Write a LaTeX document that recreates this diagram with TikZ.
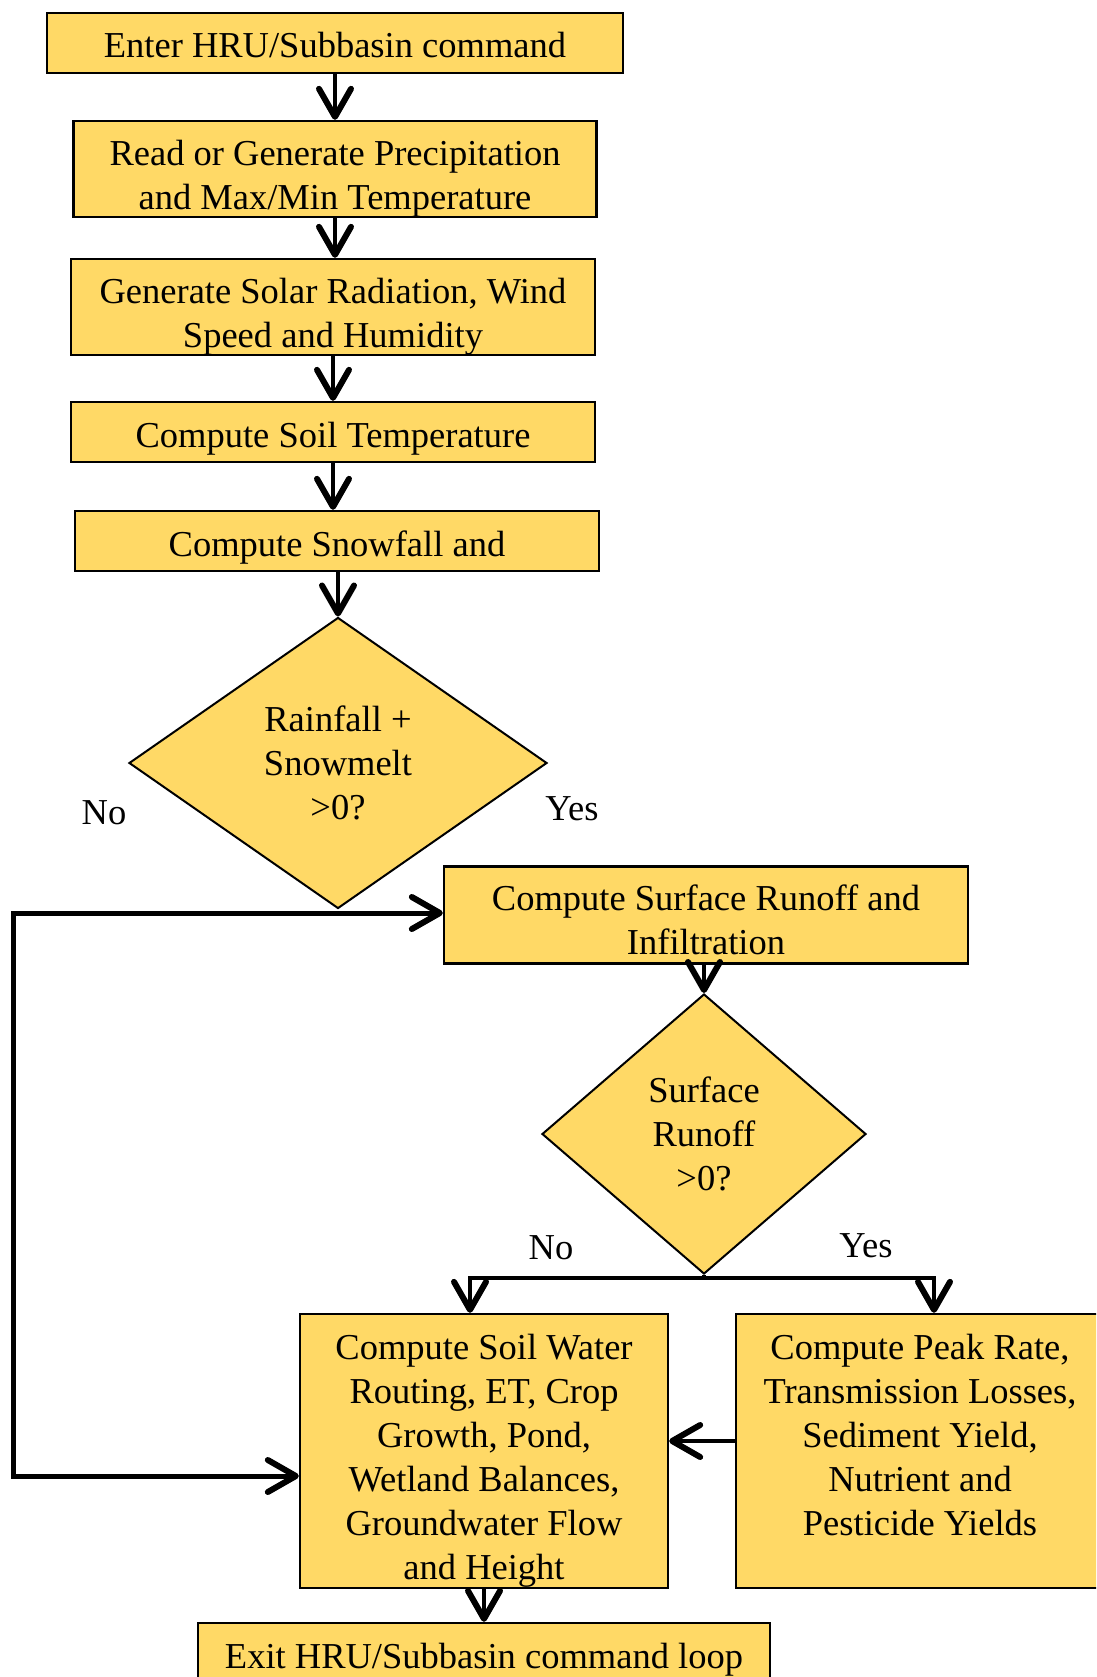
\documentclass[tikz,border=0pt]{standalone}
\usepackage{fontspec}
\setmainfont{Liberation Serif}
\usetikzlibrary{arrows.meta,shapes.geometric}
\definecolor{boxyellow}{HTML}{FFD966}
% lower the printed text by #1 without changing the box size used for centring
\newcommand{\lowtext}[2]{\raisebox{-#1}[\height][\depth]{\begin{tabular}{@{}c@{}}#2\end{tabular}}}
\begin{document}
\begin{tikzpicture}[x=1pt,y=-1pt,
  every node/.style={font=\fontsize{36.5}{44}\selectfont},
  procbox/.style={draw=black,line width=2.3pt,fill=boxyellow,inner sep=0pt,align=center},
  decbox/.style={diamond,draw=black,line width=2pt,fill=boxyellow,inner sep=0pt,align=center},
  barb/.tip={Straight Barb[length=28pt,width=32pt,line width=6pt,round]},
  flow/.style={line width=4.5pt,-barb},
  flowboth/.style={line width=5pt,barb-barb},
  plain/.style={line width=4.5pt},
  lbl/.style={inner sep=0pt}]
\useasboundingbox (0,0) rectangle (1096,1677);
\clip (0,0) rectangle (1096,1677);
\fill[white] (0,0) rectangle (1096,1677);

% process boxes
\node[procbox,minimum width=576pt,minimum height=60pt] (b1) at (335,43) {\lowtext{6pt}{Enter HRU/Subbasin command}};
\node[procbox,minimum width=523pt,minimum height=96pt] (b2) at (335,169) {\lowtext{10pt}{Read or Generate Precipitation\\and Max/Min Temperature}};
\node[procbox,minimum width=524pt,minimum height=96pt] (b3) at (333,307) {\lowtext{10pt}{Generate Solar Radiation, Wind\\Speed and Humidity}};
\node[procbox,minimum width=524pt,minimum height=60pt] (b4) at (333,432) {\lowtext{7pt}{Compute Soil Temperature}};
\node[procbox,minimum width=524pt,minimum height=60pt] (b5) at (337,541) {\lowtext{7pt}{Compute Snowfall and}};
\node[decbox,minimum width=418pt,minimum height=291pt] (d1) at (338,763) {Rainfall +\\Snowmelt\\>0?};
\node[procbox,minimum width=524pt,minimum height=97pt] (b6) at (706,915) {\lowtext{9pt}{Compute Surface Runoff and\\Infiltration}};
\node[decbox,minimum width=324pt,minimum height=280pt] (d2) at (704,1134) {Surface\\Runoff\\>0?};
\node[procbox,minimum width=368pt,minimum height=274pt] (b7) at (484,1451) {\lowtext{10pt}{Compute Soil Water\\Routing, ET, Crop\\Growth, Pond,\\Wetland Balances,\\Groundwater Flow\\and Height}};
\node[procbox,minimum width=368pt,minimum height=274pt] (b8) at (920,1451) {\lowtext{10pt}{Compute Peak Rate,\\Transmission Losses,\\Sediment Yield,\\Nutrient and\\Pesticide Yields\\\mbox{}}};
\node[procbox,minimum width=572pt,minimum height=60pt] (b9) at (484,1653) {\lowtext{7pt}{Exit HRU/Subbasin command loop}};

% labels
\node[lbl] (no1) at (104,813) {No};
\node[lbl] (yes1) at (572,809) {Yes};
\node[lbl] (no2) at (551,1248) {No};
\node[lbl] (yes2) at (866,1246) {Yes};

% main chain
\draw[flow] (b1.south) -- (b1.south |- b2.north);
\draw[flow] (b2.south) -- (b2.south |- b3.north);
\draw[flow] (b3.south) -- (b3.south |- b4.north);
\draw[flow] (b4.south) -- (b4.south |- b5.north);
\draw[flow] (d1.north |- b5.south) -- (d1.north);
\draw[flow] (d2.north |- b6.south) -- (d2.north);

% loop on the left
\coordinate (lpA) at (13,913);
\coordinate (lpB) at (13,1476);
\draw[flowboth] (lpA -| b6.west) -- (lpA) -- (lpB) -- (lpB -| b7.west);

% branch below second decision
\coordinate (brL) at (470,1278);
\coordinate (brR) at (934,1278);
\draw[plain] (d2.south) -- (d2.south |- brL);
\draw[flow] (d2.south |- brL) -- (brL) -- (brL |- b7.north);
\draw[flow] (d2.south |- brL) -- (brR) -- (brR |- b8.north);

% peak rate to soil water
\coordinate (midy) at (0,1441);
\draw[flow] (b8.west |- midy) -- (b7.east |- midy);

% soil water to exit
\draw[flow] (b7.south) -- (b7.south |- b9.north);
\end{tikzpicture}
\end{document}
